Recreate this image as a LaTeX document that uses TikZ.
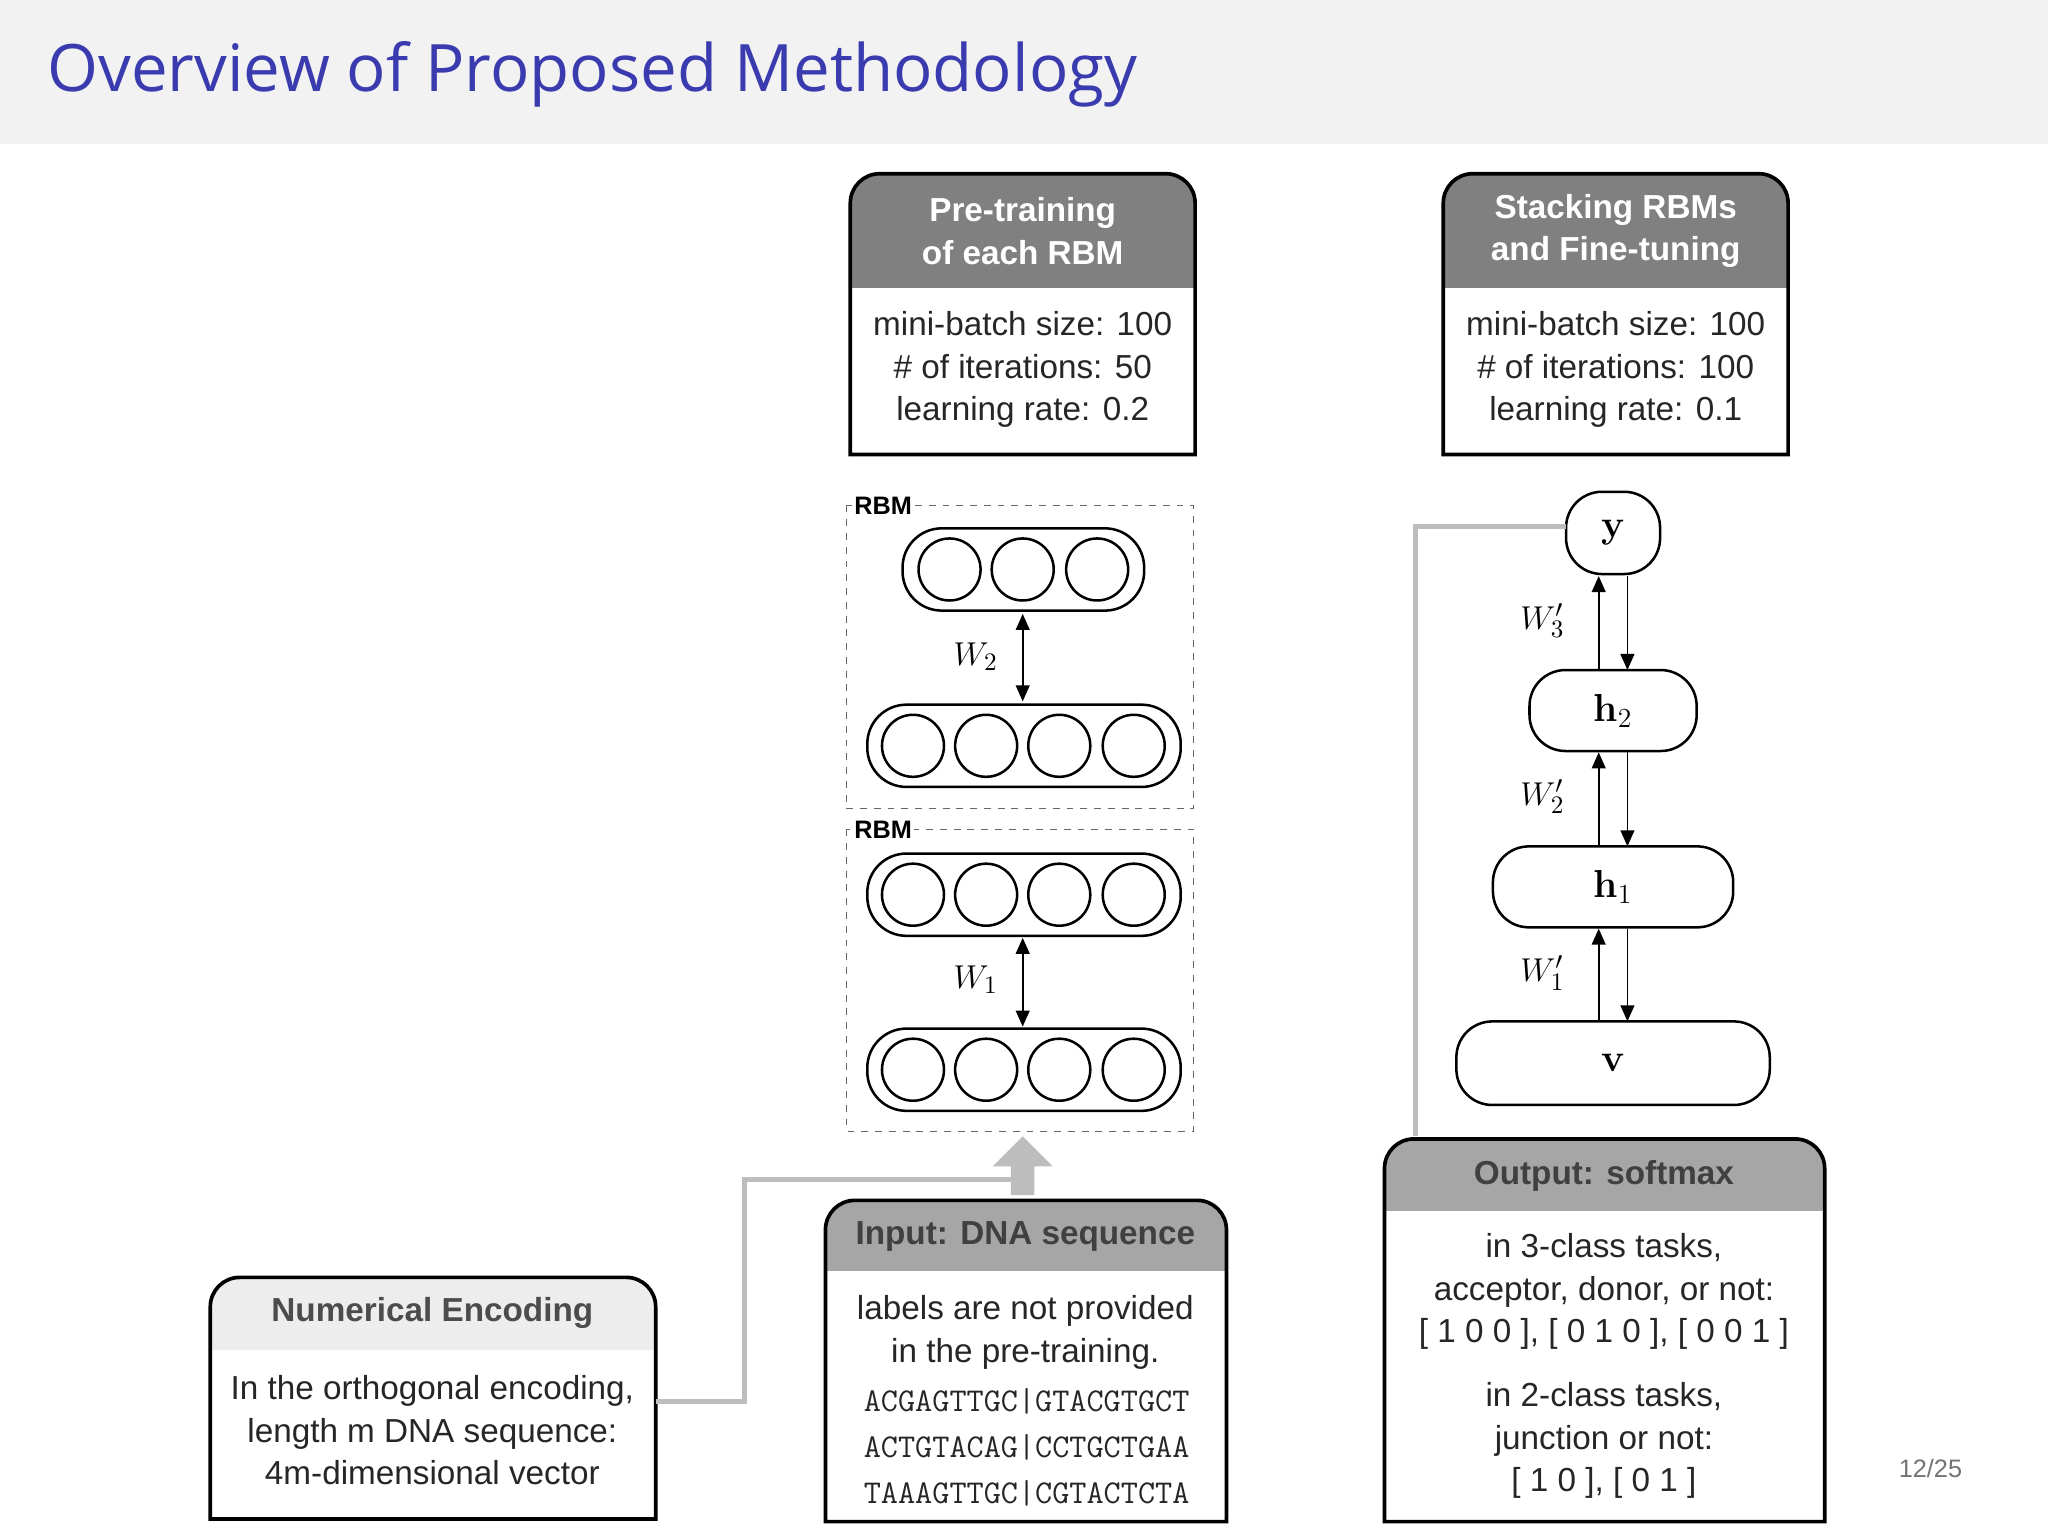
\documentclass[tikz,border=0pt]{standalone}
\usepackage{fontspec}
\setmainfont{Liberation Sans}
\newfontfamily\titlefont{Open Sans}
\newfontfamily\lmr{Latin Modern Roman}
\usetikzlibrary{arrows.meta}
\definecolor{titleblue}{HTML}{3B3BB0}
\definecolor{hdrdark}{HTML}{808080}
\definecolor{hdrmid}{HTML}{A6A6A6}
\definecolor{hdrlight}{HTML}{EDEDED}
\definecolor{linkgray}{HTML}{BDBDBD}
\newcommand{\pbox}[6]{%
  \begin{scope}
    \clip (#1,#2) rectangle (#3,#4);
    \fill[#6,rounded corners=0.45cm] (#1,#2) rectangle (#3,#5);
  \end{scope}
  \draw[boxline] (#1,#5) [rounded corners=0.45cm]-- (#1,#2) -- (#3,#2) [sharp corners]-- (#3,#5) -- cycle;
}
\tikzset{
  boxline/.style={line width=1.6pt,black},
  txt/.style={font=\fontsize{14.5}{18.5}\selectfont,align=center,text=black!85},
  hwhite/.style={font=\fontsize{14.5}{18.5}\selectfont\bfseries,align=center,text=white},
  hdark/.style={font=\fontsize{14.5}{18.5}\selectfont\bfseries,align=center,text=black!70},
  pill/.style={draw,line width=1.1pt,rounded corners=0.6cm},
  neuron/.style={draw,line width=1.1pt,circle,minimum size=0.95cm,inner sep=0pt},
  rbmbox/.style={draw=black!60,dashed,line width=0.5pt},
  dbl/.style={line width=0.8pt,{Triangle[length=7pt,width=6pt]}-{Triangle[length=7pt,width=6pt]}},
  arr/.style={line width=0.8pt,-{Triangle[length=7pt,width=6pt]}},
  netnode/.style={draw,line width=1.1pt,rounded corners=0.55cm,font=\lmr\fontsize{17}{19}\selectfont},
  wlab/.style={font=\fontsize{15}{17}\selectfont},
  link/.style={draw=linkgray,line width=2.2pt},
}
\begin{document}
\begin{tikzpicture}[x=0.02cm,y=-0.02cm]
\useasboundingbox (0,0) rectangle (1568,1176);
\fill[white] (0,0) rectangle (1568,1176);
\fill[black!5] (0,0) rectangle (1568,110);
\node[anchor=west,text=titleblue,font=\titlefont\fontsize{28.5}{31}\selectfont] (title) at (30,57) {Overview of Proposed Methodology};

% Pre-training box
\pbox{651}{133}{915}{220}{348}{hdrdark}
\node[hwhite] (pth) at (783,177) {Pre-training\\of each RBM};
\node[txt] (ptb) at (783,283) {mini-batch size: 100\\\# of iterations: 50\\learning rate: 0.2};
% Stacking box
\pbox{1105}{133}{1369}{220}{348}{hdrdark}
\node[hwhite] (sth) at (1237,177) {Stacking RBMs\\and Fine-tuning};
\node[txt] (stb) at (1237,283) {mini-batch size: 100\\\# of iterations: 100\\learning rate: 0.1};

% RBMs
\draw[rbmbox] (648,387) rectangle (914,619);
\draw[rbmbox] (648,635) rectangle (914,866);
\node[fill=white,inner sep=1pt,font=\fontsize{11}{12}\selectfont\bfseries,anchor=west] (r2) at (652,387) {RBM};
\node[fill=white,inner sep=1pt,font=\fontsize{11}{12}\selectfont\bfseries,anchor=west] (r1) at (652,635) {RBM};

\node[pill,minimum width=3.7cm,minimum height=1.26cm] (L4) at (783.5,436) {};
\foreach \x in {727,783,840} \node[neuron] at (\x,436) {};
\node[pill,minimum width=4.8cm,minimum height=1.26cm] (L3) at (784,571) {};
\foreach \x in {699,755,811,868} \node[neuron] at (\x,571) {};
\node[pill,minimum width=4.8cm,minimum height=1.26cm] (L2) at (784,685) {};
\foreach \x in {699,755,811,868} \node[neuron] at (\x,685) {};
\node[pill,minimum width=4.8cm,minimum height=1.26cm] (L1) at (784,819) {};
\foreach \x in {699,755,811,868} \node[neuron] at (\x,819) {};
\draw[dbl] (783,470) -- (783,537);
\draw[dbl] (783,718) -- (783,786);
\node[wlab] (w2) at (747,503) {$W_2$};
\node[wlab] (w1) at (747,750) {$W_1$};

% Right network
\node[netnode,minimum width=1.44cm,minimum height=1.26cm] (y) at (1235,408) {\bfseries y};
\node[netnode,minimum width=2.56cm,minimum height=1.24cm] (h2) at (1235,544) {\bfseries h\mdseries$_2$};
\node[netnode,minimum width=3.68cm,minimum height=1.24cm] (h1) at (1235,679) {\bfseries h\mdseries$_1$};
\node[netnode,minimum width=4.8cm,minimum height=1.28cm] (v) at (1235,814) {\bfseries v};
\draw[arr] (1224,513) -- (1224,441);
\draw[arr] (1246,441) -- (1246,513);
\draw[arr] (1224,648) -- (1224,576);
\draw[arr] (1246,576) -- (1246,648);
\draw[arr] (1224,782) -- (1224,711);
\draw[arr] (1246,711) -- (1246,782);
\node[wlab] (w3p) at (1181,475) {$W_3'$};
\node[wlab] (w2p) at (1181,610) {$W_2'$};
\node[wlab] (w1p) at (1181,745) {$W_1'$};

% Output box
\pbox{1060}{872}{1397}{927}{1165}{hdrmid}
\node[hdark,text=black!75] (oh) at (1228,900) {Output: softmax};
\node[txt] (ob1) at (1228,989) {in 3-class tasks,\\acceptor, donor, or not:\\{[}~1~0~0~{]}, {[}~0~1~0~{]}, {[}~0~0~1~{]}};
\node[txt] (ob2) at (1228,1103) {in 2-class tasks,\\junction or not:\\{[}~1~0~{]}, {[}~0~1~{]}};
\coordinate (ylink) at (1199,403);
\draw[link] (ylink) -- (1084,403) -- (1084,870);

% Input box
\pbox{632}{919}{939}{973}{1165}{hdrmid}
\node[hdark,text=black!75] (ih) at (785,947) {Input: DNA sequence};
\node[txt] (ib) at (785,1020) {labels are not provided\\in the pre-training.};
\node[font=\ttfamily\fontsize{14.5}{20}\selectfont,align=center,text=black!85] (seq) at (786,1108) {ACGAGTTGC|GTACGTGCT\\ACTGTACAG|CCTGCTGAA\\TAAAGTTGC|CGTACTCTA};

% Numerical encoding box
\pbox{161}{978}{502}{1033}{1163}{hdrlight}
\node[hdark] (nh) at (331,1005) {Numerical Encoding};
\node[txt] (nb) at (331,1095) {In the orthogonal encoding,\\length m DNA sequence:\\4m-dimensional vector};

% gray link + block arrow
\draw[link] (502,1073) -- (570,1073) -- (570,903) -- (776,903);
\fill[linkgray] (774,915) -- (774,893) -- (760,893) -- (783,870) -- (806,893) -- (792,893) -- (792,915) -- cycle;

\node[text=black!55,font=\fontsize{11}{13}\selectfont] (pg) at (1478,1124) {12/25};
\end{tikzpicture}
\end{document}
